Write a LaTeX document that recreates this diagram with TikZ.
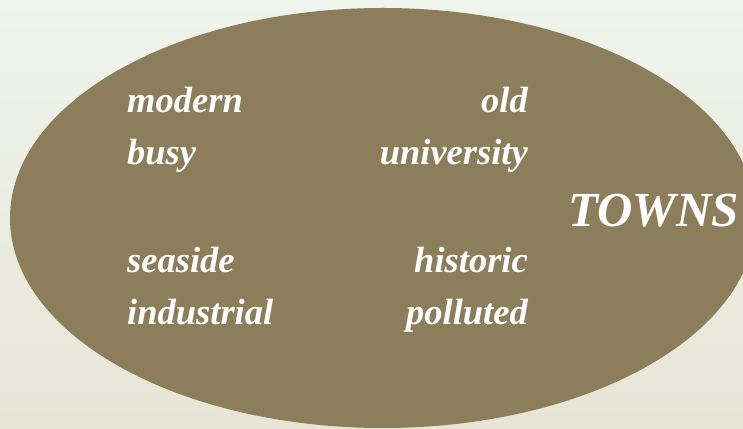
\documentclass[tikz,border=0pt]{standalone}
\usepackage{fontspec}
\setmainfont{Liberation Serif}
\definecolor{bgtop}{HTML}{EFF4EC}
\definecolor{bgbot}{HTML}{E7E5D6}
\definecolor{townfill}{HTML}{8C7E5B}
\tikzset{
  word/.style={text=white, inner sep=0pt, font=\bfseries\itshape\fontsize{36.5}{42}\selectfont},
  title/.style={text=white, inner sep=0pt, font=\bfseries\itshape\fontsize{49}{56}\selectfont},
}
\begin{document}
\begin{tikzpicture}[x=1pt,y=1pt]
\useasboundingbox (0,0) rectangle (743,428);
\shade[top color=bgtop, bottom color=bgbot] (0,0) rectangle (743,428);
\begin{scope}
\clip (0,0) rectangle (743,428);
\fill[townfill] (383,210) ellipse [x radius=373, y radius=210];
\end{scope}
\node[word, anchor=base west] (modern) at (127,315) {modern};
\node[word, anchor=base west] (busy) at (127,263) {busy};
\node[word, anchor=base west] (seaside) at (127,155) {seaside};
\node[word, anchor=base west] (industrial) at (127,103) {industrial};
\node[word, anchor=base east] (old) at (528,315) {old};
\node[word, anchor=base east] (university) at (528,263) {university};
\node[word, anchor=base east] (historic) at (528,155) {historic};
\node[word, anchor=base east] (polluted) at (528,103) {polluted};
\node[title, anchor=base west] (towns) at (568,201) {TOWNS};
\end{tikzpicture}
\end{document}
